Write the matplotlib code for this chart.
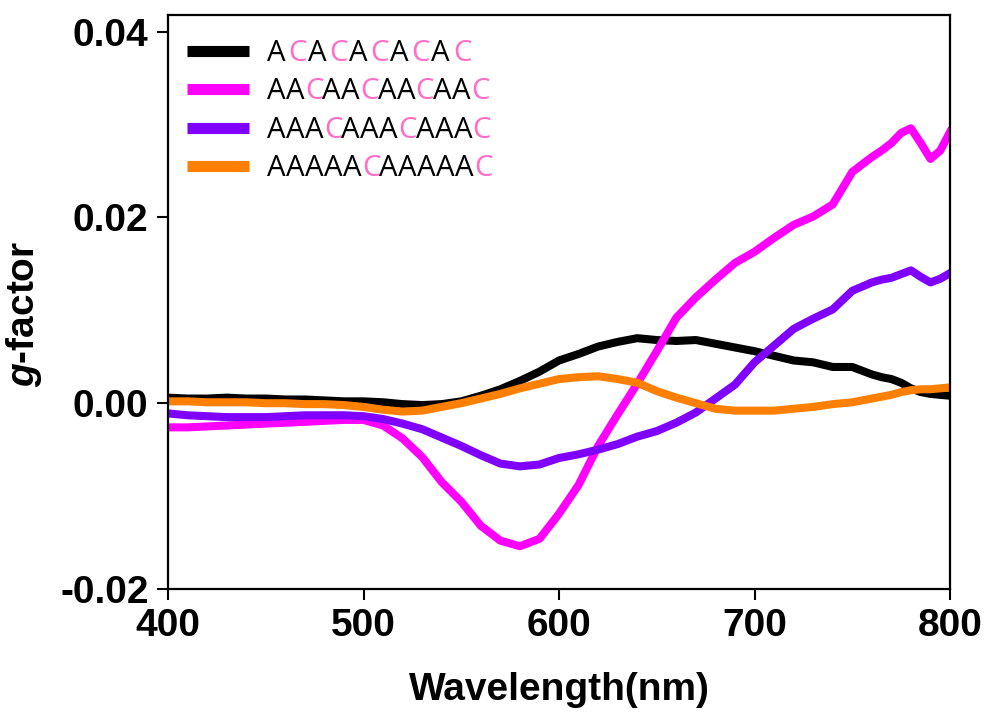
import matplotlib
matplotlib.use('Agg')
import matplotlib.pyplot as plt
from matplotlib.lines import Line2D
from matplotlib import font_manager

plt.rcParams['font.family'] = 'Liberation Sans'
plt.rcParams['font.weight'] = 'bold'
plt.rcParams['mathtext.fontset'] = 'custom'
plt.rcParams['mathtext.it'] = 'Liberation Sans:italic:bold'
plt.rcParams['mathtext.rm'] = 'Liberation Sans:bold'

wavelength = [400, 410, 420, 430, 440, 450, 460, 470, 480, 490,
              500, 510, 520, 530, 540, 550, 560, 570, 580, 590,
              600, 610, 620, 630, 640, 650, 660, 670, 680, 690,
              700, 710, 720, 730, 740, 750, 760, 765, 770, 775,
              780, 785, 790, 795, 800]

g_ac = [0.0006, 0.0005, 0.0005, 0.0006, 0.0005, 0.0005, 0.0004, 0.0004, 0.0003, 0.0002,
        0.0002, 0.0001, -0.0001, -0.0002, -0.0001, 0.0002, 0.0008, 0.0015, 0.0024, 0.0034,
        0.0046, 0.0053, 0.0061, 0.0066, 0.0070, 0.0068, 0.0067, 0.0068, 0.0064, 0.0060,
        0.0056, 0.0051, 0.0046, 0.0044, 0.0039, 0.0039, 0.0031, 0.0028, 0.0026, 0.0022,
        0.0016, 0.0012, 0.0010, 0.0009, 0.0008]

g_aac = [-0.0026, -0.0026, -0.0025, -0.0024, -0.0023, -0.0022, -0.0021, -0.0020, -0.0019, -0.0018,
         -0.0018, -0.0024, -0.0038, -0.0058, -0.0085, -0.0106, -0.0132, -0.0148, -0.0154, -0.0146,
         -0.0119, -0.0088, -0.0046, -0.0012, 0.0021, 0.0056, 0.0092, 0.0114, 0.0133, 0.0151,
         0.0163, 0.0178, 0.0192, 0.0201, 0.0214, 0.0249, 0.0265, 0.0272, 0.0280, 0.0291,
         0.0296, 0.0280, 0.0263, 0.0272, 0.0292]

g_aaac = [-0.0011, -0.0013, -0.0014, -0.0015, -0.0015, -0.0015, -0.0014, -0.0013, -0.0013, -0.0013,
          -0.0014, -0.0017, -0.0022, -0.0028, -0.0037, -0.0046, -0.0056, -0.0065, -0.0068, -0.0066,
          -0.0059, -0.0055, -0.0050, -0.0044, -0.0036, -0.0030, -0.0021, -0.0010, 0.0005, 0.0020,
          0.0044, 0.0062, 0.0080, 0.0091, 0.0101, 0.0121, 0.0130, 0.0133, 0.0135, 0.0139,
          0.0143, 0.0136, 0.0130, 0.0134, 0.0140]

g_aaaaac = [0.0002, 0.0002, 0.0001, 0.0001, 0.0001, 0.0000, 0.0000, -0.0001, -0.0001, -0.0002,
            -0.0004, -0.0007, -0.0009, -0.0008, -0.0004, 0.0000, 0.0005, 0.0010, 0.0016, 0.0021,
            0.0026, 0.0028, 0.0029, 0.0026, 0.0022, 0.0013, 0.0006, 0.0000, -0.0006, -0.0008,
            -0.0008, -0.0008, -0.0006, -0.0004, -0.0001, 0.0001, 0.0005, 0.0007, 0.0009, 0.0012,
            0.0014, 0.0015, 0.0015, 0.0016, 0.0017]

labels = ['ACACACACAC', 'AACAACAACAAC', 'AAACAAACAAAC', 'AAAAACAAAAAC']
tracking = [0.75, -0.95, -0.95, -0.95]   # letter spacing tweak (pt), first label is spread out
colors = ['#000000', '#FF00FF', '#7F00FF', '#FF8000']
series = [g_ac, g_aac, g_aaac, g_aaaaac]
c_color = '#FF6EC7'
leg_size = 21.2
leg_font = 'Open Sans'

fig = plt.figure(figsize=(9.85, 7.12), dpi=100)
ax = fig.add_axes([0.1706, 0.1728, 0.7939, 0.8062])

for vals, col in zip(series, colors):
    ax.plot(wavelength, vals, color=col, lw=5.8, solid_joinstyle='round')

ax.set_xlim(400, 800)
ax.set_ylim(-0.02, 0.0418)
ax.set_xticks([400, 500, 600, 700, 800])
ax.set_yticks([-0.02, 0.00, 0.02, 0.04])
ax.set_yticklabels(['-0.02', '0.00', '0.02', '0.04'])
ax.tick_params(direction='out', length=8, width=1.5, labelsize=28, pad=6,
               top=False, right=False)
for sp in ax.spines.values():
    sp.set_linewidth(1.6)

ax.set_xlabel('Wavelength(nm)', fontsize=28, fontweight='bold', labelpad=20)
ax.set_ylabel('$g$-factor', fontsize=28, fontweight='bold')
ax.yaxis.set_label_coords(-0.158, 0.479)

handles = [Line2D([], [], color=c, lw=8, solid_capstyle='butt') for c in colors]
leg = ax.legend(handles, labels, loc='upper left', bbox_to_anchor=(0.0243, 0.958),
                frameon=False, borderpad=0, borderaxespad=0,
                prop={'family': leg_font, 'size': leg_size, 'weight': 'normal'},
                handlelength=2.1, handletextpad=0.61, labelspacing=0.32)

# pen positions of each glyph, so the C letters can be drawn in pink
fp = font_manager.FontProperties(family=leg_font, size=leg_size)
font = font_manager.get_font(font_manager.findfont(fp))
font.set_size(100, 72)

for t, lab, trk in zip(leg.get_texts(), labels, tracking):
    t.set_alpha(0)
    pen = 0.0
    for ch in lab:
        ax.annotate(ch, xy=(0, 0), xycoords=t, xytext=(pen, 0),
                    textcoords='offset points', va='bottom', ha='left',
                    color=c_color if ch == 'C' else 'black',
                    family=leg_font, fontsize=leg_size, fontweight='normal', zorder=10)
        pen += font.load_char(ord(ch)).linearHoriAdvance / 65536 * leg_size / 100 + trk

fig.savefig('out.png', dpi=100)
